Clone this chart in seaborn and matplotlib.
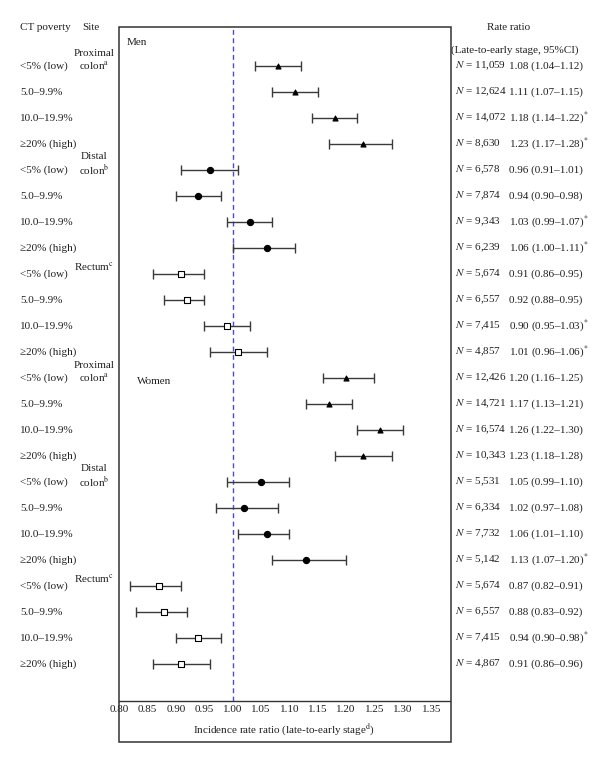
import matplotlib
matplotlib.use("Agg")
import matplotlib.pyplot as plt
import matplotlib.transforms as mtransforms
from matplotlib.patches import Rectangle
import numpy as np
import pandas as pd
import seaborn as sns

# ---- data ----
poverty = ["<5% (low)", "5.0–9.9%", "10.0–19.9%", "≥20% (high)"] * 6
site = (["Proximal colon"] * 4 + ["Distal colon"] * 4 + ["Rectum"] * 4) * 2
sex = ["Men"] * 12 + ["Women"] * 12

rate = [1.08, 1.11, 1.18, 1.23, 0.96, 0.94, 1.03, 1.06, 0.91, 0.92, 0.99, 1.01,
        1.20, 1.17, 1.26, 1.23, 1.05, 1.02, 1.06, 1.13, 0.87, 0.88, 0.94, 0.91]
lower = [1.04, 1.07, 1.14, 1.17, 0.91, 0.90, 0.99, 1.00, 0.86, 0.88, 0.95, 0.96,
         1.16, 1.13, 1.22, 1.18, 0.99, 0.97, 1.01, 1.07, 0.82, 0.83, 0.90, 0.86]
upper = [1.12, 1.15, 1.22, 1.28, 1.01, 0.98, 1.07, 1.11, 0.95, 0.95, 1.03, 1.06,
         1.25, 1.21, 1.30, 1.28, 1.10, 1.08, 1.10, 1.20, 0.91, 0.92, 0.98, 0.96]

n_cases = ["11,059", "12,624", "14,072", "8,630", "6,578", "7,874", "9,343", "6,239",
           "5,674", "6,557", "7,415", "4,857",
           "12,426", "14,721", "16,574", "10,343", "5,531", "6,334", "7,732", "5,142",
           "5,674", "6,557", "7,415", "4,867"]
# printed estimates as they appear in the right column
rr_text = ["1.08 (1.04–1.12)", "1.11 (1.07–1.15)", "1.18 (1.14–1.22)", "1.23 (1.17–1.28)",
           "0.96 (0.91–1.01)", "0.94 (0.90–0.98)", "1.03 (0.99–1.07)", "1.06 (1.00–1.11)",
           "0.91 (0.86–0.95)", "0.92 (0.88–0.95)", "0.90 (0.95–1.03)", "1.01 (0.96–1.06)",
           "1.20 (1.16–1.25)", "1.17 (1.13–1.21)", "1.26 (1.22–1.30)", "1.23 (1.18–1.28)",
           "1.05 (0.99–1.10)", "1.02 (0.97–1.08)", "1.06 (1.01–1.10)", "1.13 (1.07–1.20)",
           "0.87 (0.82–0.91)", "0.88 (0.83–0.92)", "0.94 (0.90–0.98)", "0.91 (0.86–0.96)"]
starred = [0, 0, 1, 1, 0, 0, 1, 1, 0, 0, 1, 1,
           0, 0, 0, 0, 0, 0, 0, 1, 0, 0, 1, 0]

site_labels = {"Proximal colon": "Proximal\ncolon$^{\\mathrm{a}}$",
               "Distal colon": "Distal\ncolon$^{\\mathrm{b}}$",
               "Rectum": "Rectum$^{\\mathrm{c}}$"}
xticks = [0.80, 0.85, 0.90, 0.95, 1.00, 1.05, 1.10, 1.15, 1.20, 1.25, 1.30, 1.35]

df = pd.DataFrame({"poverty": poverty, "site": site, "sex": sex,
                   "rate": rate, "lower": lower, "upper": upper})
df["row"] = np.arange(len(df))

sns.set_theme(style="white")
plt.rcParams["font.family"] = ["Liberation Serif", "DejaVu Serif"]
plt.rcParams["mathtext.fontset"] = "stix"
ink = "#231f20"
fs = 8

fig = plt.figure(figsize=(6, 7.63), dpi=100)
ax = fig.add_axes([119 / 600, 1 - 701 / 763, 331 / 600, 674 / 763])

# confidence intervals
ax.errorbar(df["rate"], df["row"],
            xerr=[df["rate"] - df["lower"], df["upper"] - df["rate"]],
            fmt="none", ecolor="#3a3a3a", elinewidth=1, capsize=3.6, capthick=1,
            zorder=2)

markers = {"Proximal colon": ("^", "black", 13),
           "Distal colon": ("o", "black", 20),
           "Rectum": ("s", "white", 13)}
for s, (m, fc, size) in markers.items():
    sub = df[df["site"] == s]
    sns.scatterplot(data=sub, x="rate", y="row", marker=m, s=size,
                    facecolor=fc, edgecolor="black", linewidth=0.8,
                    ax=ax, zorder=3, legend=False)

ax.axvline(1.0, color="#4a4ae0", lw=1, ls=(0, (3.5, 2.5)), zorder=1)

ax.set_xlim(0.80, 1.383)
ax.set_ylim(24.42, -1.5)
ax.set_xticks(xticks)
ax.set_xticklabels([f"{t:.2f}" for t in xticks], fontsize=fs, color=ink)
ax.set_yticks([])
ax.tick_params(axis="x", length=0, pad=3)
ax.set_ylabel("")
ax.set_xlabel("Incidence rate ratio (late-to-early stage$^{\\mathrm{d}}$)",
              fontsize=fs, color=ink, labelpad=5)
for side in ["left", "right", "top"]:
    ax.spines[side].set_visible(False)
ax.spines["bottom"].set_color("#333333")
ax.spines["bottom"].set_linewidth(1)

# outer frame around plot + axis labels
fig.patches.append(Rectangle((119 / 600, 1 - 742 / 763), 331.5 / 600, 715 / 763,
                             transform=fig.transFigure, fill=False,
                             edgecolor="#333333", lw=1.1, zorder=5))

ax.text(0.814, -0.92, "Men", fontsize=fs, color=ink, va="center")
ax.text(0.831, 12.15, "Women", fontsize=fs, color=ink, va="center")

trans = mtransforms.blended_transform_factory(fig.transFigure, ax.transData)
for i, r in df.iterrows():
    ax.text(20 / 600, r["row"], r["poverty"], transform=trans, fontsize=fs,
            color=ink, va="center", clip_on=False)
    ax.text(455 / 600, r["row"], f"$N$ = {n_cases[i]}", transform=trans,
            fontsize=fs, color=ink, va="center", clip_on=False)
    label = rr_text[i] + ("$^{*}$" if starred[i] else "")
    ax.text(509 / 600, r["row"], label, transform=trans, fontsize=fs,
            color=ink, va="center", clip_on=False)

first_rows = df.groupby(["sex", "site"], sort=False)["row"].min()
for (sx, s), r0 in first_rows.items():
    off = -0.27 if s == "Rectum" else -0.22
    ax.text(94 / 600, r0 + off, site_labels[s], transform=trans, fontsize=fs,
            color=ink, ha="center", va="center", linespacing=1.1, clip_on=False)

fig.text(20 / 600, 1 - 27 / 763, "CT poverty", fontsize=fs, color=ink, va="center")
fig.text(91 / 600, 1 - 27 / 763, "Site", fontsize=fs, color=ink, va="center",
         ha="center")
fig.text(509 / 600, 1 - 27 / 763, "Rate ratio", fontsize=fs, color=ink,
         va="center", ha="center")
fig.text(515 / 600, 1 - 50 / 763, "(Late-to-early stage, 95%CI)", fontsize=fs,
         color=ink, va="center", ha="center")

fig.savefig("out.png", dpi=100, facecolor="white")
